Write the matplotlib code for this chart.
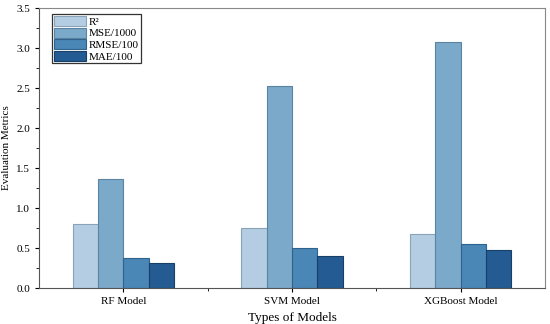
import numpy as np
import matplotlib.pyplot as plt
from matplotlib.ticker import MultipleLocator, FixedLocator

plt.rcParams['font.family'] = ['Liberation Serif', 'DejaVu Serif']

models = ['RF Model', 'SVM Model', 'XGBoost Model']
metrics = ['R²', 'MSE/1000', 'RMSE/100', 'MAE/100']
r2 = [0.80, 0.75, 0.68]
mse = [1.36, 2.52, 3.07]
rmse = [0.37, 0.50, 0.55]
mae = [0.31, 0.40, 0.47]

colors = ['#b4cde2', '#7ba9c9', '#4a86b6', '#235b92']
edges = ['#8aa3b8', '#5a84a2', '#2f628c', '#173f68']

fig = plt.figure(figsize=(5.5, 3.24), dpi=100)
ax = fig.add_axes([0.071, 0.111, 0.92, 0.864])

x = np.arange(1, len(models) + 1)
w = 0.15
for i, (vals, lab) in enumerate(zip([r2, mse, rmse, mae], metrics)):
    ax.bar(x + (i - 1.5) * w, vals, w, color=colors[i], edgecolor=edges[i],
           linewidth=0.8, label=lab)

ax.set_xlim(0.5, 3.5)
ax.set_ylim(0, 3.5)
ax.set_xticks(x)
ax.set_xticklabels(models, fontsize=8)
ax.xaxis.set_minor_locator(FixedLocator([1.5, 2.5]))
ax.yaxis.set_major_locator(MultipleLocator(0.5))
ax.yaxis.set_minor_locator(MultipleLocator(0.25))
ax.tick_params(axis='y', labelsize=8)
ax.tick_params(which='both', direction='out')
ax.tick_params(which='major', length=3)
ax.tick_params(which='minor', length=2)
ax.set_ylabel('Evaluation Metrics', fontsize=8)
ax.set_xlabel('Types of Models', fontsize=9.5)

for s in ['left', 'bottom']:
    ax.spines[s].set_color('#555555')
for s in ['top', 'right']:
    ax.spines[s].set_color('#888888')

leg = ax.legend(loc='upper left', bbox_to_anchor=(0.026, 0.978), fontsize=8,
                fancybox=False, edgecolor='#333333', framealpha=1,
                handlelength=2.9, handleheight=1.0, borderpad=0.15,
                labelspacing=0.08, handletextpad=0.25, borderaxespad=0)
leg.get_frame().set_linewidth(0.9)

fig.savefig('out.png', dpi=100)
